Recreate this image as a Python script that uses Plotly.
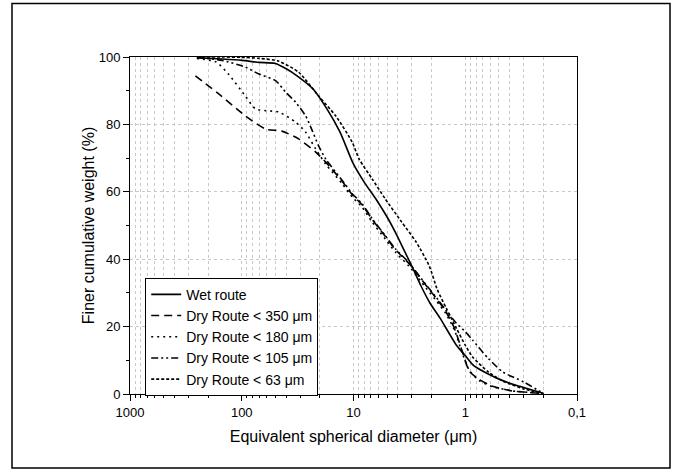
import plotly.graph_objects as go

# ---- data (diameter in µm, finer cumulative weight in %) ----
wet_d = [252, 150, 100, 70, 50, 40, 32, 23, 17.3, 13.2, 10.1, 8, 6.2, 4.9, 4.08, 3.45, 2.94, 2.5, 2.07, 1.68, 1.19, 1.0, 0.84, 0.54, 0.345, 0.2]
wet_v = [99.8, 99.4, 99.0, 98.4, 98.1, 96.5, 94.4, 90.5, 84.6, 77.7, 68.5, 62.8, 57.5, 52, 47, 42, 37.3, 32.2, 27, 22.5, 14.3, 11.4, 8.4, 4.9, 2.5, 0.2]

d350_d = [260, 152, 92.7, 61, 43.7, 31, 21.8, 17.7, 12.7, 10.3, 8.4, 6.8, 5.2, 4.2, 3.2, 2.25, 1.8, 1.5, 1.25, 1.06, 0.92, 0.75, 0.57, 0.38, 0.23, 0.2]
d350_v = [94.4, 88.4, 82.5, 78.6, 78, 75.7, 71.8, 68.8, 63.2, 59.2, 56.2, 51.8, 46.8, 42.8, 38.8, 32.3, 28.2, 24.6, 19.5, 12.5, 6.8, 4.3, 2.3, 0.9, 0.3, 0]

d180_d = [252, 169, 132, 92.7, 75.4, 57.6, 46.8, 33, 26.8, 21.8, 17.7, 12.7, 10.3, 8.4, 6.8, 5.2, 4.2, 3.2, 2.25, 1.8, 1.5, 1.25, 1.06, 0.92, 0.75, 0.57, 0.38, 0.23, 0.2]
d180_v = [99.6, 98.5, 95, 88.4, 84.6, 84, 83.7, 80.7, 77.7, 72.7, 68.2, 62.5, 58.5, 55.5, 51, 46, 42, 38, 31.5, 27.5, 24, 19, 12, 7, 4, 2.2, 0.9, 0.3, 0]

d105_d = [252, 150, 92.7, 70.8, 49.8, 40.5, 33, 26.8, 23.7, 20.5, 17.7, 12.7, 10.3, 8.4, 6.8, 5.2, 4.2, 3.2, 2.25, 1.8, 1.5, 1.2, 1.0, 0.86, 0.62, 0.46, 0.3, 0.22, 0.2]
d105_v = [99.8, 99.0, 97, 95, 93, 89.6, 86.6, 82.5, 78.6, 73.6, 69.7, 63.5, 59.5, 56.5, 52, 47, 43, 39, 32.5, 28.5, 25, 21, 18.5, 16, 10.5, 6.5, 3.6, 1, 0.3]

d63_d = [252, 150, 100, 70, 47, 31, 20.5, 14.4, 10.3, 8.9, 6.8, 5.2, 3.7, 2.75, 2.1, 1.78, 1.48, 1.2, 1.0, 0.86, 0.62, 0.46, 0.3, 0.2]
d63_v = [100, 100, 99.9, 99.6, 98.8, 95.5, 88.4, 82.5, 74.8, 69.7, 63.8, 57.9, 51, 45.1, 38, 31, 25.5, 19.5, 14.5, 11, 6.5, 3.8, 1.5, 0]

series_names = ["Wet route", "Dry Route < 350 μm", "Dry Route < 180 μm", "Dry Route < 105 μm", "Dry Route < 63 μm"]

x_major = [1000, 100, 10, 1, 0.1]
x_major_text = ["1000", "100", "10", "1", "0,1"]
x_minor = [m * 10 ** e for e in (-1, 0, 1, 2) for m in range(2, 10)]
y_major = [0, 20, 40, 60, 80, 100]

# ---- figure ----
FONT = "Liberation Sans, Arial, sans-serif"
styles = [
    dict(dash="solid", width=1.6),
    dict(dash="8px,5px", width=1.6),
    dict(dash="2px,4px", width=1.6),
    dict(dash="7px,3px,2px,3px,2px,3px", width=1.6),
    dict(dash="3px,2px", width=1.6),
]
data = [(wet_d, wet_v), (d350_d, d350_v), (d180_d, d180_v), (d105_d, d105_v), (d63_d, d63_v)]

fig = go.Figure()
for (xd, yd), name, st in zip(data, series_names, styles):
    fig.add_trace(go.Scatter(
        x=xd, y=yd, mode="lines", name=name,
        line=dict(color="black", width=st["width"], dash=st["dash"], shape="spline", smoothing=0.6),
    ))

grid = "#c8c8c8"
fig.update_layout(
    width=675, height=472,
    margin=dict(l=130, r=98, t=57, b=78),
    paper_bgcolor="white", plot_bgcolor="white",
    font=dict(family=FONT, size=13, color="black"),
    showlegend=True,
    legend=dict(
        x=0.034, y=0.345, xanchor="left", yanchor="top",
        bgcolor="white", bordercolor="black", borderwidth=1,
        font=dict(family=FONT, size=14, color="black"),
        itemwidth=30, tracegroupgap=0,
    ),
    xaxis=dict(
        type="log", range=[3, -1],
        tickmode="array", tickvals=x_major, ticktext=x_major_text,
        ticks="outside", ticklen=6, tickwidth=1, tickcolor="black",
        showline=True, linecolor="black", linewidth=1, mirror=True,
        showgrid=True, gridcolor=grid, griddash="dot", gridwidth=1,
        zeroline=False,
        tickfont=dict(family=FONT, size=13),
        title=dict(text="Equivalent spherical diameter (μm)", font=dict(family=FONT, size=16), standoff=12),
        minor=dict(tickmode="array", tickvals=x_minor, ticks="outside", ticklen=3,
                   tickcolor="black", showgrid=True, gridcolor=grid, griddash="dot", gridwidth=1),
    ),
    yaxis=dict(
        range=[0, 100],
        tickmode="array", tickvals=y_major,
        ticks="outside", ticklen=6, tickwidth=1, tickcolor="black",
        showline=True, linecolor="black", linewidth=1, mirror=True,
        showgrid=True, gridcolor=grid, griddash="dot", gridwidth=1,
        zeroline=False,
        tickfont=dict(family=FONT, size=13),
        title=dict(text="Finer cumulative weight (%)", font=dict(family=FONT, size=16), standoff=0),
        minor=dict(dtick=10, ticks="outside", ticklen=3, tickcolor="black", showgrid=False),
    ),
)

# outer frame around the whole graphic
fig.add_shape(type="rect", xref="paper", yref="paper",
              x0=(12 - 130) / 447, x1=(670 - 130) / 447,
              y0=(394 - 468) / 337, y1=(394 - 3.5) / 337,
              line=dict(color="black", width=1.5), fillcolor="rgba(0,0,0,0)", layer="above")

fig.write_html("out.html")
